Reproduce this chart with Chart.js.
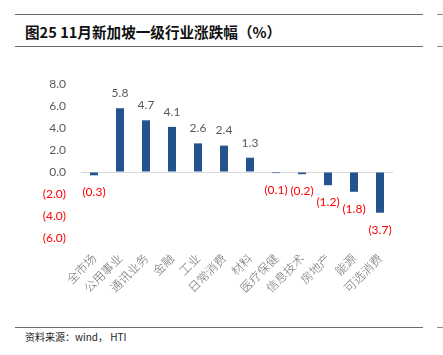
<!DOCTYPE html>
<html><head><meta charset="utf-8">
<script src="https://cdn.jsdelivr.net/npm/chart.js@4"></script>
<style>
html,body{margin:0;padding:0;background:#fff;width:443px;height:355px;overflow:hidden;position:relative;font-family:"Noto Sans CJK SC",sans-serif}
.hl{position:absolute;left:15px;width:408px;height:1px;background:#6b6b6b}
.dash{position:absolute;left:437px;width:6px;height:1px;background:#888}
#title{position:absolute;left:25px;top:21px;font-size:14.6px;font-weight:bold;color:#111;white-space:nowrap}
#src{position:absolute;left:25px;top:329px;font-size:10px;color:#222;white-space:nowrap}
#wrap{position:absolute;left:0;top:0;width:443px;height:355px}
</style></head>
<body>
<div class="hl" style="top:14px"></div>
<div class="hl" style="top:46px"></div>
<div class="hl" style="top:327px"></div>
<div class="dash" style="top:14px"></div>
<div class="dash" style="top:46px"></div>
<div class="dash" style="top:327px"></div>
<div id="title">图25 11月新加坡一级行业涨跌幅（%）</div>
<div id="src">资料来源：wind， HTI</div>
<div id="wrap"><canvas id="c"></canvas></div>
<script>
const categories = ["全市场","公用事业","通讯业务","金融","工业","日常消费","材料","医疗保健","信息技术","房地产","能源","可选消费"];
const values = [-0.3, 5.8, 4.7, 4.1, 2.6, 2.4, 1.3, -0.1, -0.2, -1.2, -1.8, -3.7];
const yTicks = [-6, -4, -2, 0, 2, 4, 6, 8];

function fmt(v){ return v < 0 ? "(" + Math.abs(v).toFixed(1) + ")" : v.toFixed(1); }

const labelPlugin = {
  id: 'barLabels',
  afterDatasetsDraw(chart){
    const ctx = chart.ctx;
    const meta = chart.getDatasetMeta(0);
    ctx.save();
    ctx.font = '12px Lato, "Liberation Sans", sans-serif';
    ctx.textAlign = 'center';
    ctx.textBaseline = 'middle';
    meta.data.forEach((bar, i) => {
      const v = values[i];
      if (v < 0) { ctx.fillStyle = '#FF0000'; ctx.fillText(fmt(v), bar.x, bar.y + 17); }
      else { ctx.fillStyle = '#595959'; ctx.fillText(fmt(v), bar.x, bar.y - 15); }
    });
    ctx.restore();
  }
};

new Chart(document.getElementById('c'), {
  type: 'bar',
  data: { labels: categories, datasets: [{ data: values, backgroundColor: '#22538C', borderWidth: 0, categoryPercentage: 1, barPercentage: 0.31 }] },
  options: {
    responsive: true, maintainAspectRatio: false, animation: false,
    devicePixelRatio: 1,
    layout: { padding: { left: 21, right: 50, top: 84, bottom: 27 } },
    plugins: { legend: { display: false }, tooltip: { enabled: false } },
    scales: {
      y: {
        min: -6, max: 8,
        afterFit(s){ s.width = 60; },
        afterBuildTicks(s){ s.ticks = yTicks.map(v => ({ value: v })); },
        border: { display: false },
        grid: { drawTicks: false, color: ctx => (ctx.tick && ctx.tick.value === 0) ? '#d9d9d9' : 'rgba(0,0,0,0)', lineWidth: 1 },
        ticks: {
          padding: 15,
          font: { family: 'Lato, "Liberation Sans", sans-serif', size: 12 },
          color: ctx => ctx.tick.value < 0 ? '#FF0000' : '#595959',
          callback: v => fmt(v)
        }
      },
      x: {
        afterFit(s){ s.height = 90; },
        border: { display: false },
        grid: { display: false, drawTicks: false },
        ticks: {
          padding: 13, autoSkip: false, maxRotation: 45, minRotation: 45,
          font: { family: '"Noto Sans CJK SC", sans-serif', size: 12, weight: 300 },
          color: '#737373'
        }
      }
    }
  },
  plugins: [labelPlugin]
});
</script>
</body></html>
